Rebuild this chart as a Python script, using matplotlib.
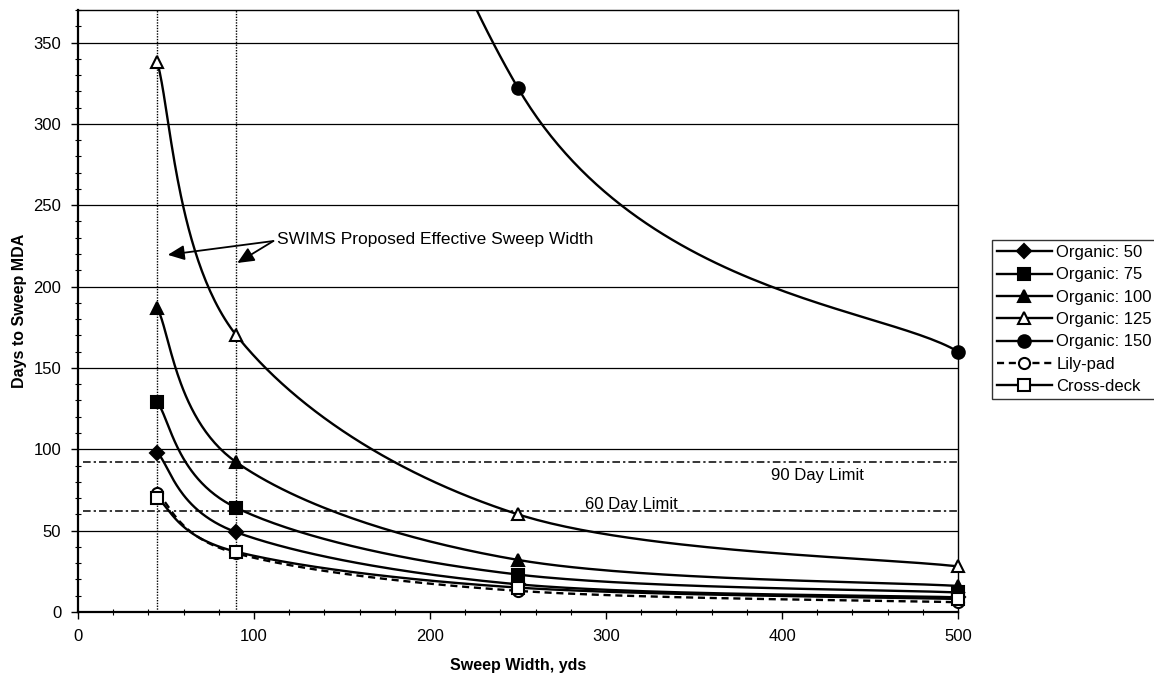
"""Days to sweep MDA versus sweep width, per detection case."""

import numpy as np
import matplotlib
matplotlib.use("Agg")
import matplotlib.pyplot as plt
from matplotlib.lines import Line2D

plt.rcParams["font.family"] = ["Liberation Sans", "DejaVu Sans"]

# data
sweep_width = [45, 90, 250, 500]
organic_50 = [98, 49, 17, 9]
organic_75 = [129, 64, 23, 12]
organic_100 = [187, 92, 32, 16]
organic_125 = [338, 170, 60, 28]
organic_150 = [1825, 918, 322, 160]   # first two are above the plot
lily_pad = [73, 36, 13, 6]
cross_deck = [70, 37, 15, 8]

proposed_widths = [45, 90]
limit_x = [3, 500]
limit_90 = 92
limit_60 = 62

series = [
    ("Organic: 50", organic_50, "D", 7, "k", "-"),
    ("Organic: 75", organic_75, "s", 8, "k", "-"),
    ("Organic: 100", organic_100, "^", 9, "k", "-"),
    ("Organic: 125", organic_125, "^", 9, "white", "-"),
    ("Organic: 150", organic_150, "o", 9, "k", "-"),
    ("Lily-pad", lily_pad, "o", 8, "white", (0, (3, 2))),
    ("Cross-deck", cross_deck, "s", 8, "white", "-"),
]

YMAX = 370


def smooth(x, y, n=60):
    """Catmull-Rom curve through the points, like Excel's smoothed lines."""
    pts = np.column_stack([x, y]).astype(float)
    p = np.vstack([pts[0], pts, pts[-1]])
    t = np.linspace(0, 1, n)[:, None]
    h00 = 2 * t**3 - 3 * t**2 + 1
    h10 = t**3 - 2 * t**2 + t
    h01 = -2 * t**3 + 3 * t**2
    h11 = t**3 - t**2
    out = []
    for i in range(1, len(p) - 2):
        p0, p1, p2, p3 = p[i - 1], p[i], p[i + 1], p[i + 2]
        m1 = (p2 - p0) / 2
        m2 = (p3 - p1) / 2
        out.append(h00 * p1 + h10 * m1 + h01 * p2 + h11 * m2)
    c = np.vstack(out)
    return c[:, 0], c[:, 1]


fig = plt.figure(figsize=(11.54, 6.79), dpi=100)
ax = fig.add_axes([0.0676, 0.0987, 0.7626, 0.8866])

for yv in range(50, 351, 50):
    ax.axhline(yv, color="k", lw=0.9, zorder=1)

for xv in proposed_widths:
    ax.axvline(xv, color="k", lw=1.0, ls=(0, (1, 1)), zorder=1)

ax.plot(limit_x, [limit_90, limit_90], color="k", lw=1.1,
        ls=(0, (5, 2, 1.5, 2)), zorder=2)
ax.plot(limit_x, [limit_60, limit_60], color="k", lw=1.1,
        ls=(0, (5, 2, 1.5, 2)), zorder=2)

handles = []
for name, vals, mk, ms, mfc, ls in series:
    sx, sy = smooth(sweep_width, vals)
    ax.plot(sx, sy, color="k", lw=1.7, ls=ls, zorder=3)
    xs = np.array(sweep_width)
    ys = np.array(vals)
    keep = ys <= YMAX
    ax.plot(xs[keep], ys[keep], ls="none", marker=mk, ms=ms, mfc=mfc,
            mec="k", mew=1.5, zorder=4, clip_on=False)
    handles.append(Line2D([], [], color="k", lw=1.7, ls=ls, marker=mk,
                          ms=ms, mfc=mfc, mec="k", mew=1.5, label=name))

ax.text(394, 84, "90 Day Limit", fontsize=12, va="center", ha="left")
ax.text(288, 66, "60 Day Limit", fontsize=12, va="center", ha="left")

ax.text(113, 229, "SWIMS Proposed Effective Sweep Width", fontsize=12.5,
        va="center", ha="left")
for hx, hy in [(51, 219.5), (90.5, 214.5)]:
    ax.annotate("", xy=(hx, hy), xytext=(111, 228),
                arrowprops=dict(arrowstyle="-|>,head_length=1.0,head_width=0.45",
                                color="k", lw=1.3, shrinkA=0, shrinkB=0))

ax.set_xlim(0, 500)
ax.set_ylim(0, YMAX)
ax.set_xticks(range(0, 501, 100))
ax.set_xticks(range(0, 501, 20), minor=True)
ax.set_yticks(range(0, 351, 50))
ax.set_yticks(range(0, 371, 10), minor=True)
ax.tick_params(axis="both", which="major", direction="out", length=5,
               width=1, labelsize=12, pad=7)
ax.tick_params(axis="both", which="minor", direction="inout", length=4,
               width=0.8)

for side in ["left", "bottom"]:
    ax.spines[side].set_linewidth(1.6)
for side in ["top", "right"]:
    ax.spines[side].set_linewidth(1.0)

ax.set_xlabel("Sweep Width, yds", fontsize=11.5, fontweight="bold", labelpad=10)
ax.set_ylabel("Days to Sweep MDA", fontsize=11.5, fontweight="bold", labelpad=5)

leg = fig.legend(handles=handles, loc="upper left",
                 bbox_to_anchor=(0.8596, 0.6465), fontsize=12,
                 handlelength=3.3, labelspacing=0.44, handletextpad=0.25,
                 borderpad=0.3, frameon=True, fancybox=False,
                 borderaxespad=0)
leg.get_frame().set_edgecolor("k")
leg.get_frame().set_linewidth(1.0)

fig.savefig("out.png", dpi=100)
